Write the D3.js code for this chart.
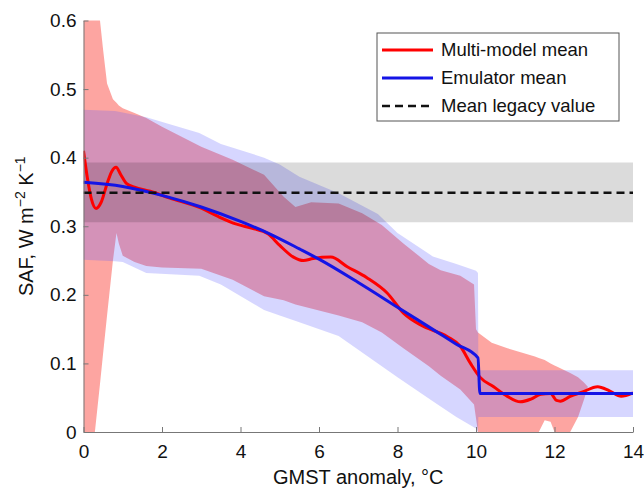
<!DOCTYPE html>
<html>
<head>
<meta charset="utf-8">
<script src="https://cdn.jsdelivr.net/npm/d3@7"></script>
<style>
  body { margin: 0; background: #fff; }
  text { font-family: Arial, "Liberation Sans", Helvetica, sans-serif; fill: #111; }
</style>
</head>
<body>
<div id="chart"></div>
<script>
//the data
var xTicks = [0, 2, 4, 6, 8, 10, 12, 14];
var yTicks = [0, 0.1, 0.2, 0.3, 0.4, 0.5, 0.6];
var yTickLabels = ["0", "0.1", "0.2", "0.3", "0.4", "0.5", "0.6"];

var mmMeanX = [0, 0.1, 0.2, 0.32, 0.45, 0.6, 0.72, 0.83, 0.95, 1.1, 1.3, 1.7, 2.2, 2.97, 3.4, 3.9, 4.3, 4.7, 5.0, 5.35, 5.6, 5.85, 6.3, 6.72, 7.22, 7.73, 8.16, 8.59, 9.27, 9.6, 9.86, 10.1, 10.45, 10.8, 11.13, 11.4, 11.65, 11.9, 12.05, 12.15, 12.4, 12.7, 13.1, 13.4, 13.7, 14];
var mmMeanY = [0.41, 0.37, 0.34, 0.326, 0.335, 0.362, 0.38, 0.386, 0.375, 0.362, 0.357, 0.351, 0.341, 0.327, 0.315, 0.303, 0.297, 0.289, 0.272, 0.255, 0.25, 0.253, 0.255, 0.241, 0.225, 0.203, 0.173, 0.156, 0.139, 0.125, 0.1, 0.08, 0.066, 0.052, 0.044, 0.048, 0.055, 0.056, 0.046, 0.045, 0.052, 0.058, 0.066, 0.06, 0.052, 0.057];

var emuMeanX = [0, 1, 2, 3, 4, 4.7, 5.5, 6, 7, 8, 9, 9.5, 10.05, 10.1, 11, 12, 13, 14];
var emuMeanY = [0.364, 0.358, 0.345, 0.328, 0.307, 0.29, 0.267, 0.252, 0.218, 0.182, 0.146, 0.128, 0.108, 0.056, 0.056, 0.056, 0.056, 0.056];

var mmBandX = [0, 0.29, 0.42, 0.5, 0.6, 0.75, 0.84, 0.9, 1.0, 1.3, 1.6, 2.0, 3.0, 3.8, 4.6, 5.1, 5.4, 5.8, 6.5, 7.1, 7.6, 8.15, 8.8, 9.1, 9.6, 9.95, 10.0, 10.05, 10.4, 10.8, 11.5, 11.6, 11.75, 11.9, 12.0, 12.07, 12.4, 12.6, 12.75, 12.85];
var mmBandLo = [0, 0, 0.07, 0.115, 0.17, 0.25, 0.29, 0.275, 0.257, 0.248, 0.242, 0.24, 0.238, 0.222, 0.198, 0.192, 0.186, 0.18, 0.17, 0.16, 0.145, 0.122, 0.096, 0.082, 0.062, 0.04, 0.02, 0, 0, 0, 0, 0, 0.017, 0.015, 0, 0, 0, 0.022, 0.047, 0.066];
var mmBandHi = [0.65, 0.62, 0.6, 0.557, 0.508, 0.485, 0.48, 0.476, 0.472, 0.465, 0.458, 0.445, 0.416, 0.397, 0.375, 0.343, 0.328, 0.335, 0.333, 0.319, 0.302, 0.275, 0.245, 0.236, 0.228, 0.215, 0.15, 0.145, 0.13, 0.122, 0.11, 0.108, 0.105, 0.1, 0.097, 0.095, 0.086, 0.08, 0.072, 0.066];

var emuBandX = [0, 0.8, 1.0, 1.6, 2.95, 3.5, 4.6, 5.0, 5.5, 6.5, 7.5, 8.0, 8.9, 9.5, 10.0, 10.05, 10.06, 14];
var emuBandLo = [0.251, 0.249, 0.248, 0.232, 0.228, 0.215, 0.178, 0.17, 0.16, 0.14, 0.1, 0.08, 0.045, 0.022, 0.005, 0, 0.022, 0.022];
var emuBandHi = [0.47, 0.468, 0.466, 0.459, 0.436, 0.42, 0.4, 0.39, 0.372, 0.348, 0.318, 0.29, 0.256, 0.245, 0.235, 0.232, 0.09, 0.09];

var legacyMean = 0.349;
var legacyLo = 0.306;
var legacyHi = 0.393;

var legendLabels = ["Multi-model mean", "Emulator mean", "Mean legacy value"];

//the svg
var svg = d3
  .select("#chart")
  .append("svg")
  .attr("width", 644)
  .attr("height", 490);

var margin = { left: 83.5, right: 11, top: 20.5, bottom: 58 };
var width = 644 - margin.left - margin.right;
var height = 490 - margin.top - margin.bottom;

var x = d3.scaleLinear().domain([0, 14]).range([margin.left, margin.left + width]);
var y = d3.scaleLinear().domain([0, 0.6]).range([margin.top + height, margin.top]);

svg
  .append("clipPath")
  .attr("id", "plot-clip")
  .append("rect")
  .attr("x", x(0))
  .attr("y", y(0.6))
  .attr("width", x(14) - x(0))
  .attr("height", y(0) - y(0.6));

var plot = svg.append("g").attr("clip-path", "url(#plot-clip)");

function zip(xs, ys) {
  return xs.map((d, i) => [d, ys[i]]);
}
function band(xs, lo, hi) {
  return xs.map((d, i) => ({ x: d, lo: lo[i], hi: hi[i] }));
}

var area = d3
  .area()
  .x((d) => x(d.x))
  .y0((d) => y(d.lo))
  .y1((d) => y(d.hi));

//ranges: models first, emulator laid over it
plot
  .append("path")
  .datum(band(mmBandX, mmBandLo, mmBandHi))
  .attr("d", area)
  .attr("fill", "rgb(250,30,20)")
  .attr("fill-opacity", 0.4);

plot
  .append("path")
  .datum(band(emuBandX, emuBandLo, emuBandHi))
  .attr("d", area)
  .attr("fill", "rgb(90,90,255)")
  .attr("fill-opacity", 0.25);

//legacy value band
plot
  .append("path")
  .datum(band([0, 14], [legacyLo, legacyLo], [legacyHi, legacyHi]))
  .attr("d", area)
  .attr("fill", "#000")
  .attr("fill-opacity", 0.14);

//mean lines
var line = d3
  .line()
  .x((d) => x(d[0]))
  .y((d) => y(d[1]))
  .curve(d3.curveMonotoneX);

plot
  .append("path")
  .datum(zip(mmMeanX, mmMeanY))
  .attr("d", line)
  .attr("fill", "none")
  .attr("stroke", "#f00")
  .attr("stroke-width", 3);

plot
  .append("path")
  .datum(zip(emuMeanX, emuMeanY))
  .attr("d", line)
  .attr("fill", "none")
  .attr("stroke", "#1414e6")
  .attr("stroke-width", 3);

plot
  .append("path")
  .datum([[0, legacyMean], [14, legacyMean]])
  .attr("d", d3.line().x((d) => x(d[0])).y((d) => y(d[1])))
  .attr("fill", "none")
  .attr("stroke", "#111")
  .attr("stroke-width", 2.5)
  .attr("stroke-dasharray", "8,5");

//axes
var xAxis = svg
  .append("g")
  .attr("transform", "translate(0," + y(0) + ")")
  .call(d3.axisBottom(x).tickValues(xTicks).tickSizeInner(-5).tickSizeOuter(0).tickPadding(13));

var yAxis = svg
  .append("g")
  .attr("transform", "translate(" + x(0) + ",0)")
  .call(
    d3
      .axisLeft(y)
      .tickValues(yTicks)
      .tickFormat((d, i) => yTickLabels[i])
      .tickSizeInner(-5)
      .tickSizeOuter(0)
      .tickPadding(7)
  );

[xAxis, yAxis].forEach((g) => {
  g.select(".domain").attr("stroke", "#777");
  g.selectAll(".tick line").attr("stroke", "#777");
  g.selectAll(".tick text")
    .attr("font-size", "19px")
    .attr("font-family", "Arial, 'Liberation Sans', sans-serif")
    .attr("fill", "#111");
});

//axis titles
svg
  .append("text")
  .attr("x", (x(0) + x(14)) / 2)
  .attr("y", 484)
  .attr("text-anchor", "middle")
  .attr("font-size", "20px")
  .text("GMST anomaly, °C");

var ylab = svg
  .append("text")
  .attr("transform", "translate(33," + (y(0) + y(0.6)) / 2 + ") rotate(-90)")
  .attr("text-anchor", "middle")
  .attr("font-size", "20px");
ylab.append("tspan").text("SAF, W m");
ylab.append("tspan").attr("dy", -8).attr("font-size", "14px").text("−2");
ylab.append("tspan").attr("dy", 8).text(" K");
ylab.append("tspan").attr("dy", -8).attr("font-size", "14px").text("−1");

//the legend
var legend = svg.append("g").attr("transform", "translate(377,33)");

legend
  .append("rect")
  .attr("width", 242)
  .attr("height", 88)
  .attr("fill", "#fff")
  .attr("stroke", "#555")
  .attr("stroke-width", 1);

var legendStyles = [
  { stroke: "#f00", dash: null, w: 3 },
  { stroke: "#1414e6", dash: null, w: 3 },
  { stroke: "#111", dash: "8,5", w: 2.5 }
];

var items = legend
  .selectAll("g.item")
  .data(legendLabels)
  .enter()
  .append("g")
  .attr("class", "item")
  .attr("transform", (d, i) => "translate(0," + (17 + i * 28) + ")");

items
  .append("line")
  .attr("x1", 5)
  .attr("x2", 56)
  .attr("stroke", (d, i) => legendStyles[i].stroke)
  .attr("stroke-width", (d, i) => legendStyles[i].w)
  .attr("stroke-dasharray", (d, i) => legendStyles[i].dash);

items
  .append("text")
  .attr("x", 64)
  .attr("dy", "0.35em")
  .attr("font-size", "18.5px")
  .text((d) => d);
</script>
</body>
</html>
